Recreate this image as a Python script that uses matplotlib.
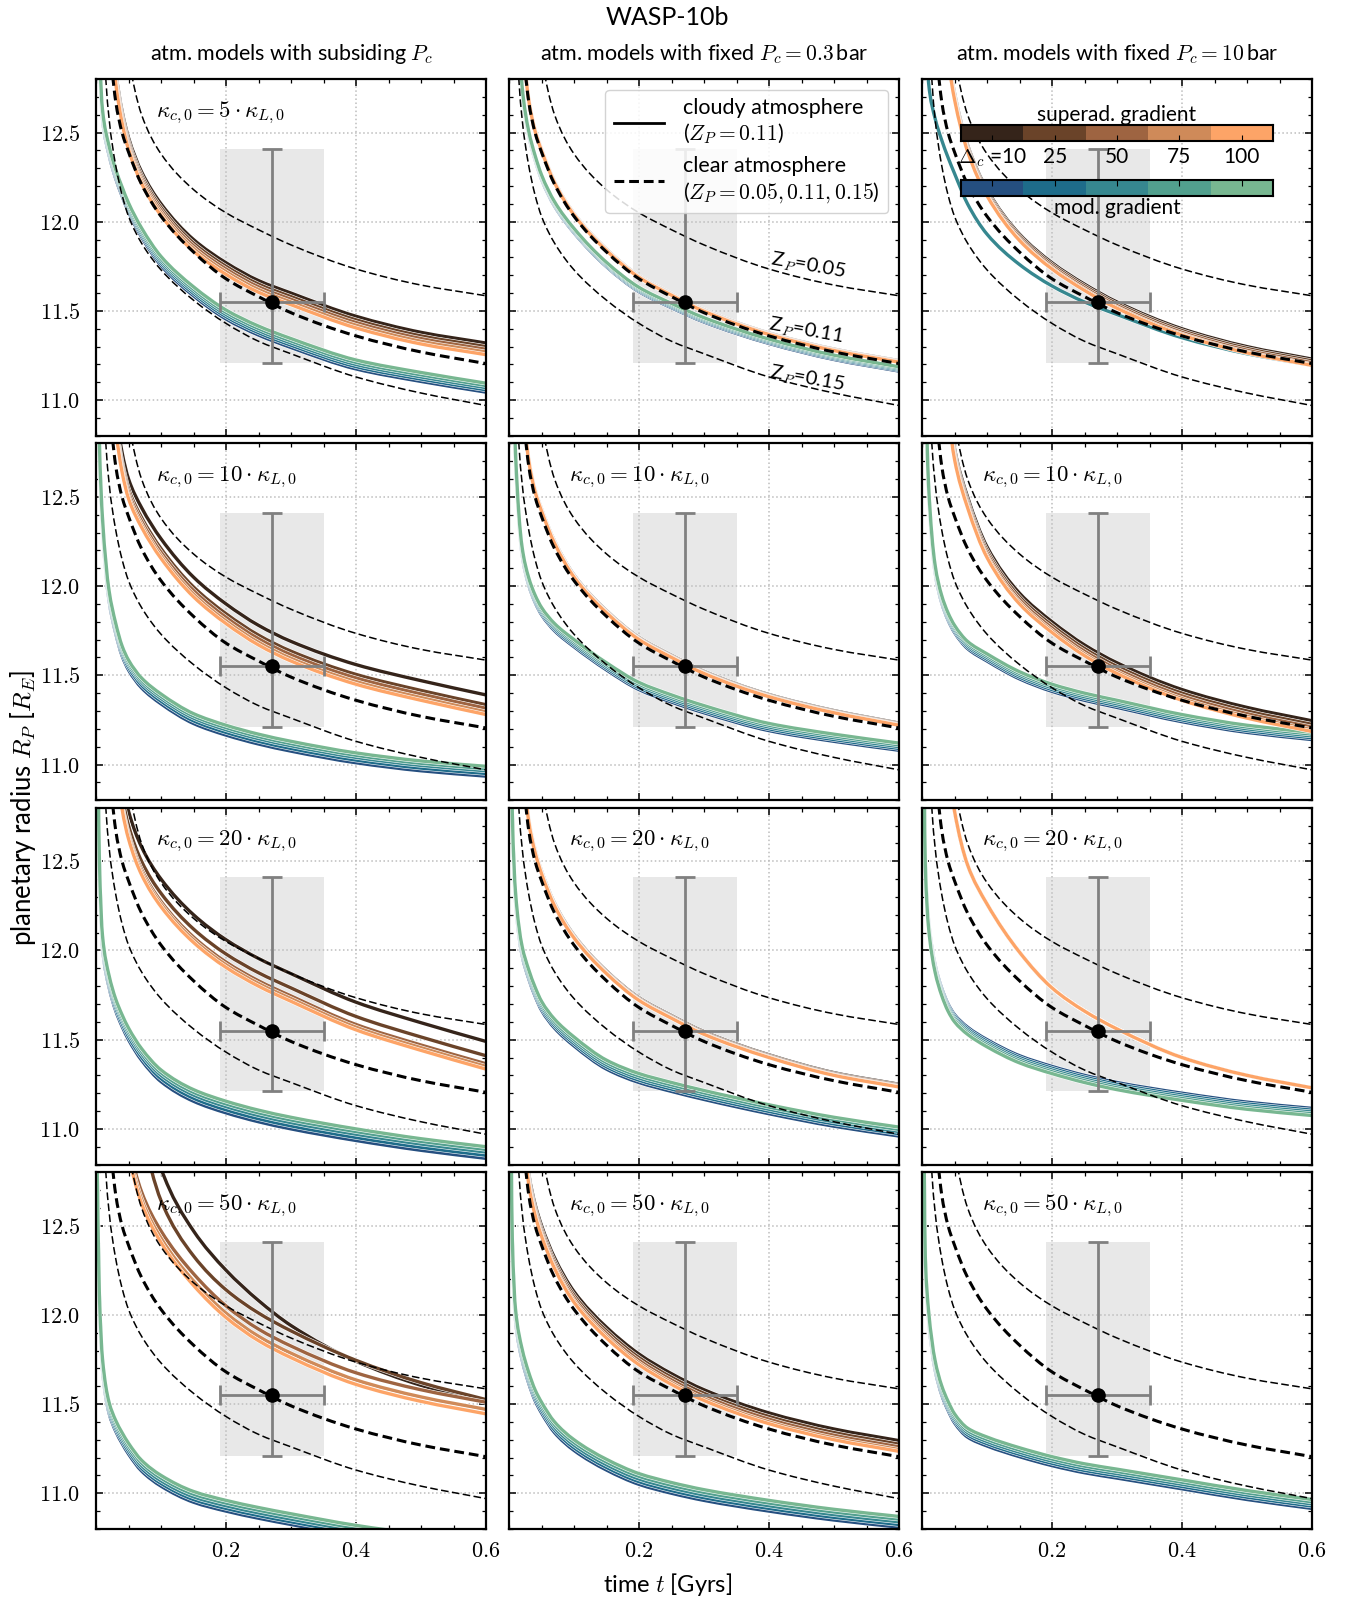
import numpy as np
import matplotlib
matplotlib.use('Agg')
import matplotlib.pyplot as plt
import matplotlib.patheffects as pe
from matplotlib.lines import Line2D
from matplotlib.path import Path
from matplotlib.patches import PathPatch
from matplotlib.colors import ListedColormap
from matplotlib.ticker import MultipleLocator, FixedLocator, FuncFormatter

plt.rcParams['mathtext.fontset'] = 'cm'
plt.rcParams['font.family'] = ['Lato', 'DejaVu Sans']

# time grid [Gyr] on which all radius tracks are tabulated
t_grid = [0.001, 0.005, 0.01, 0.02, 0.03, 0.04, 0.05, 0.07, 0.1, 0.15, 0.2, 0.25, 0.3, 0.4, 0.5, 0.6]

# clear atmosphere tracks (same in every panel)
clear_z005 = [18.0, 16.5, 15.5, 14.4, 13.7, 13.2, 12.92, 12.6, 12.38, 12.18, 12.05, 11.955, 11.87, 11.735, 11.645, 11.585]
clear_z011 = [17.5, 15.8, 14.3, 13.1, 12.68, 12.50, 12.39, 12.21, 12.03, 11.83, 11.68, 11.58, 11.49, 11.36, 11.27, 11.205]
clear_z015 = [17.0, 15.0, 13.2, 12.58, 12.32, 12.15, 12.03, 11.88, 11.73, 11.56, 11.43, 11.33, 11.26, 11.13, 11.04, 10.97]

# opacity factors (rows) and label for each row
kappa_factor = [5, 10, 20, 50]
col_titles = [r'atm. models with subsiding $P_c$',
              r'atm. models with fixed $P_c = 0.3\,$bar',
              r'atm. models with fixed $P_c = 10\,$bar']
delta_c = [10, 25, 50, 75, 100]

sup_colors = ['#35241a', '#6a4329', '#9e6441', '#cf8a59', '#fda467']
mod_colors = ['#254f80', '#1e6c8a', '#36878f', '#52a08e', '#78b791']

# cloudy tracks, superadiabatic gradient: per panel a list of
# (track, [(colour index, shift), ...])
sup_00 = [20, 17.5, 15.5, 13.3, 12.85, 12.62, 12.47, 12.28, 12.1, 11.9, 11.77, 11.67, 11.6, 11.47, 11.38, 11.32]
sup_10 = [20, 17.5, 15.5, 13.5, 13.0, 12.75, 12.6, 12.44, 12.265, 12.05, 11.9, 11.78, 11.69, 11.56, 11.47, 11.39]
sup_20 = [20, 17.5, 16, 14.0, 13.3, 12.95, 12.78, 12.58, 12.4, 12.2, 12.06, 11.955, 11.87, 11.71, 11.595, 11.49]
sup_30_a = [17.6, 16.8, 16.0, 15.0, 14.45, 14.05, 13.75, 13.3, 12.82, 12.47, 12.25, 12.08, 11.94, 11.74, 11.605, 11.51]
sup_30_b = [17.4, 16.6, 15.8, 14.8, 14.2, 13.8, 13.5, 13.05, 12.64, 12.33, 12.14, 12.01, 11.91, 11.745, 11.62, 11.525]
sup_30_c = [17.4, 16.6, 15.8, 14.5, 13.7, 13.2, 12.93, 12.65, 12.43, 12.19, 12.01, 11.88, 11.785, 11.635, 11.54, 11.47]
sup_01 = [17.5, 15.8, 14.3, 13.1, 12.69, 12.51, 12.40, 12.22, 12.04, 11.84, 11.69, 11.59, 11.50, 11.37, 11.28, 11.215]
sup_11 = [17.5, 15.8, 14.3, 13.12, 12.71, 12.53, 12.42, 12.24, 12.05, 11.85, 11.70, 11.60, 11.51, 11.38, 11.29, 11.22]
sup_21 = [17.5, 15.8, 14.3, 13.15, 12.73, 12.55, 12.43, 12.25, 12.07, 11.87, 11.72, 11.62, 11.53, 11.40, 11.30, 11.235]
sup_31 = [17.6, 16, 14.5, 13.25, 12.8, 12.62, 12.50, 12.32, 12.13, 11.93, 11.78, 11.67, 11.58, 11.45, 11.36, 11.295]
sup_02 = [19, 17, 16, 14.2, 13.35, 12.95, 12.72, 12.43, 12.18, 11.93, 11.77, 11.65, 11.55, 11.40, 11.30, 11.23]
sup_12 = [19, 17, 16, 14.4, 13.5, 13.05, 12.77, 12.5, 12.22, 11.96, 11.80, 11.67, 11.57, 11.42, 11.32, 11.245]
sup_22 = [19, 17, 16, 14.4, 13.5, 13.05, 12.78, 12.48, 12.26, 11.99, 11.79, 11.66, 11.56, 11.40, 11.30, 11.23]

superad = {
    (0, 0): [(sup_00, [(0, 0), (1, -0.02), (2, -0.035), (3, -0.05), (4, -0.065)])],
    (1, 0): [(sup_10, [(0, 0), (1, -0.055), (2, -0.075), (3, -0.095), (4, -0.11)])],
    (2, 0): [(sup_20, [(0, 0), (1, -0.08), (2, -0.125), (3, -0.14), (4, -0.155)])],
    (3, 0): [(sup_30_a, [(0, 0)]), (sup_30_b, [(1, 0)]),
             (sup_30_c, [(2, 0.04), (3, 0), (4, -0.025)])],
    (0, 1): [(sup_01, [(0, 0.006), (1, 0.004), (2, 0.002), (3, 0), (4, -0.002)])],
    (1, 1): [(sup_11, [(0, 0.012), (1, 0.008), (2, 0.004), (3, 0.002), (4, 0)])],
    (2, 1): [(sup_21, [(0, 0.015), (1, 0.01), (2, 0.005), (3, 0.002), (4, 0)])],
    (3, 1): [(sup_31, [(0, 0), (1, -0.02), (2, -0.035), (3, -0.05), (4, -0.06)])],
    (0, 2): [(sup_02, [(0, 0), (1, -0.01), (2, -0.02), (3, -0.03), (4, -0.035)])],
    (1, 2): [(sup_12, [(0, 0), (1, -0.02), (2, -0.035), (3, -0.05), (4, -0.06)])],
    (2, 2): [(sup_22, [(0, 0), (1, 0), (2, 0), (3, 0), (4, 0)])],
}

# cloudy tracks, moderate gradient
mod_00 = [15.0, 13.0, 12.6, 12.4, 12.27, 12.17, 12.08, 11.94, 11.78, 11.61, 11.48, 11.39, 11.32, 11.2, 11.13, 11.07]
mod_10 = [14.0, 12.8, 12.35, 11.95, 11.77, 11.64, 11.56, 11.46, 11.37, 11.26, 11.195, 11.145, 11.105, 11.04, 10.995, 10.965]
mod_20 = [14.0, 12.5, 12.05, 11.83, 11.70, 11.61, 11.535, 11.42, 11.3, 11.19, 11.125, 11.075, 11.035, 10.97, 10.915, 10.87]
mod_30 = [13.0, 12.1, 11.72, 11.48, 11.38, 11.31, 11.25, 11.155, 11.07, 10.98, 10.93, 10.89, 10.855, 10.79, 10.74, 10.70]
mod_01 = [15.5, 14.5, 13.6, 12.75, 12.5, 12.36, 12.25, 12.1, 11.95, 11.76, 11.62, 11.53, 11.45, 11.33, 11.24, 11.175]
mod_11 = [15.0, 13.5, 12.72, 12.2, 12.03, 11.93, 11.86, 11.77, 11.68, 11.55, 11.44, 11.37, 11.31, 11.21, 11.15, 11.10]
mod_21 = [14.5, 12.75, 12.3, 12.0, 11.87, 11.77, 11.69, 11.59, 11.49, 11.36, 11.285, 11.235, 11.19, 11.11, 11.04, 10.985]
mod_31 = [14.0, 12.4, 12.0, 11.78, 11.65, 11.55, 11.48, 11.37, 11.27, 11.16, 11.08, 11.03, 10.99, 10.93, 10.88, 10.84]
mod_02 = [14.5, 13.3, 12.78, 12.58, 12.46, 12.36, 12.27, 12.1, 11.93, 11.76, 11.64, 11.55, 11.48, 11.35, 11.26, 11.195]
mod_12 = [14.0, 13.2, 12.55, 12.1, 11.93, 11.83, 11.76, 11.67, 11.6, 11.5, 11.43, 11.38, 11.34, 11.26, 11.2, 11.16]
mod_22 = [14.0, 12.5, 12.15, 11.9, 11.77, 11.68, 11.62, 11.55, 11.48, 11.39, 11.33, 11.28, 11.24, 11.18, 11.13, 11.095]
mod_32 = [14.0, 12.3, 12.0, 11.72, 11.58, 11.49, 11.42, 11.34, 11.29, 11.23, 11.18, 11.14, 11.11, 11.05, 10.99, 10.94]

spread = [(0, -0.025), (1, -0.012), (2, 0), (3, 0.012), (4, 0.025)]
moderate = {
    (0, 0): [(mod_00, spread)],
    (1, 0): [(mod_10, [(0, -0.03), (1, -0.015), (2, 0), (3, 0.012), (4, 0.025)])],
    (2, 0): [(mod_20, [(0, -0.035), (1, -0.018), (2, 0), (3, 0.015), (4, 0.03)])],
    (3, 0): [(mod_30, [(0, -0.03), (1, -0.015), (2, 0), (3, 0.015), (4, 0.03)])],
    (0, 1): [(mod_01, [(0, -0.012), (1, -0.006), (2, 0), (3, 0.006), (4, 0.012)])],
    (1, 1): [(mod_11, [(0, -0.02), (1, -0.01), (2, 0), (3, 0.01), (4, 0.02)])],
    (2, 1): [(mod_21, spread)],
    (3, 1): [(mod_31, [(0, -0.03), (1, -0.015), (2, 0), (3, 0.015), (4, 0.03)])],
    (0, 2): [(mod_02, [(2, 0)])],
    (1, 2): [(mod_12, [(0, -0.02), (1, -0.01), (2, 0), (3, 0.01), (4, 0.02)])],
    (2, 2): [(mod_22, [(0, 0.02), (1, 0.01), (2, 0), (3, -0.01), (4, -0.02)])],
    (3, 2): [(mod_32, spread)],
}

# observed age and radius of WASP-10b
obs_t, obs_t_err = 0.27, 0.08
obs_r, obs_r_lo, obs_r_hi = 11.55, 0.34, 0.86

t = np.array(t_grid)
stroke = [pe.Stroke(linewidth=3.2, foreground='white'), pe.Normal()]
fmt = FuncFormatter(lambda v, p: '$%.1f$' % v)


def smooth_path(x, y):
    # monotone cubic Bezier through the tabulated points
    x = np.asarray(x, float)
    y = np.asarray(y, float)
    h = np.diff(x)
    d = np.diff(y) / h
    m = np.empty_like(y)
    m[0], m[-1] = d[0], d[-1]
    for k in range(1, len(x) - 1):
        if d[k - 1] * d[k] <= 0:
            m[k] = 0.0
        else:
            w1 = 2 * h[k] + h[k - 1]
            w2 = h[k] + 2 * h[k - 1]
            m[k] = (w1 + w2) / (w1 / d[k - 1] + w2 / d[k])
    verts = [(x[0], y[0])]
    codes = [Path.MOVETO]
    for k in range(len(x) - 1):
        verts += [(x[k] + h[k] / 3, y[k] + m[k] * h[k] / 3),
                  (x[k + 1] - h[k] / 3, y[k + 1] - m[k + 1] * h[k] / 3),
                  (x[k + 1], y[k + 1])]
        codes += [Path.CURVE4] * 3
    return Path(verts, codes)


def draw_track(ax, y, **kw):
    ax.add_patch(PathPatch(smooth_path(t, y), fill=False, capstyle='butt', **kw))


def draw_bundle(ax, groups, colors):
    for track, members in groups:
        for ci, shift in members:
            draw_track(ax, np.array(track) + shift, edgecolor=colors[ci], lw=2.4,
                       path_effects=stroke, zorder=2)


fig, axes = plt.subplots(4, 3, figsize=(13.49, 16.02), dpi=100, sharex=True, sharey=True)
fig.subplots_adjust(left=0.0712, right=0.9726, top=0.9507, bottom=0.0456,
                    wspace=0.059, hspace=0.021)

for r in range(4):
    for c in range(3):
        ax = axes[r, c]
        ax.fill_between([obs_t - obs_t_err, obs_t + obs_t_err], obs_r - obs_r_lo,
                        obs_r + obs_r_hi, color='#e8e8e8', lw=0, zorder=0.5)
        ax.grid(True, which='major', ls=':', color='#bdbdbd', lw=1.1, zorder=0.6)
        ax.set_axisbelow(True)

        if (r, c) in moderate:
            draw_bundle(ax, moderate[(r, c)], mod_colors)
        if (r, c) in superad:
            draw_bundle(ax, superad[(r, c)], sup_colors)

        draw_track(ax, clear_z005, edgecolor='k', lw=1.1, ls=(0, (5, 2.2)), zorder=3)
        draw_track(ax, clear_z015, edgecolor='k', lw=1.1, ls=(0, (5, 2.2)), zorder=3)
        draw_track(ax, clear_z011, edgecolor='k', lw=2.2, ls=(0, (3.2, 1.6)), zorder=3)

        ax.errorbar(obs_t, obs_r, xerr=obs_t_err, yerr=[[obs_r_lo], [obs_r_hi]],
                    fmt='o', color='k', ms=9.5, ecolor='grey', elinewidth=2,
                    capsize=7, capthick=2, zorder=5)

        ax.set_xlim(0, 0.6)
        ax.set_ylim(10.8, 12.8)
        ax.xaxis.set_major_locator(FixedLocator([0.2, 0.4, 0.6]))
        ax.xaxis.set_minor_locator(MultipleLocator(0.05))
        ax.yaxis.set_major_locator(FixedLocator([11.0, 11.5, 12.0, 12.5]))
        ax.yaxis.set_minor_locator(MultipleLocator(0.1))
        ax.xaxis.set_major_formatter(fmt)
        ax.yaxis.set_major_formatter(fmt)
        ax.tick_params(which='both', direction='in', top=True, right=True, labelsize=16)
        ax.tick_params(which='major', length=5, width=1.1)
        ax.tick_params(which='minor', length=3, width=0.9)
        ax.tick_params(axis='y', pad=11.5)
        ax.tick_params(axis='x', pad=9)
        for sp in ax.spines.values():
            sp.set_linewidth(1.6)

        if not (r == 0 and c > 0):
            ax.text(0.155, 0.905, r'$\kappa_{c,0} = %d \cdot \kappa_{L,0}$' % kappa_factor[r],
                    transform=ax.transAxes, fontsize=16.5, va='center', ha='left')

# legend and clear-track labels in the middle top panel
ax = axes[0, 1]
handles = [Line2D([], [], color='k', lw=2),
           Line2D([], [], color='k', lw=2.2, ls=(0, (3.2, 1.6)))]
ax.legend(handles, ['cloudy atmosphere\n($Z_P = 0.11$)',
                    'clear atmosphere\n($Z_P = 0.05, 0.11, 0.15$)'],
          loc='upper right', fontsize=15.5, handlelength=2.3, handletextpad=0.9,
          framealpha=0.85, edgecolor='#cccccc', borderaxespad=0.5, labelspacing=0.45)
for z, (zx, zy) in zip(['0.05', '0.11', '0.15'], [(0.46, 11.75), (0.457, 11.385), (0.459, 11.12)]):
    ax.text(zx, zy, r'Z$_P$=' + z, rotation=-10, ha='center', va='center',
            fontsize=14.5, zorder=6)

# discrete colour keys for the temperature jump in the right top panel
ax = axes[0, 2]
cax1 = ax.inset_axes([0.1, 0.826, 0.8, 0.045])
cax1.imshow([np.arange(5)], cmap=ListedColormap(sup_colors), aspect='auto', extent=[0, 5, 0, 1])
cax1.set_xticks(np.arange(5) + 0.5)
cax1.set_xticklabels([r'$\Delta_c$ =10'] + [str(d) for d in delta_c[1:]], fontsize=15)
cax1.set_yticks([])
cax1.tick_params(axis='x', direction='in', length=4, pad=4)
cax1.set_title('superad. gradient', fontsize=15, pad=1)

cax2 = ax.inset_axes([0.1, 0.671, 0.8, 0.045])
cax2.imshow([np.arange(5)], cmap=ListedColormap(mod_colors), aspect='auto', extent=[0, 5, 0, 1])
cax2.set_xticks(np.arange(5) + 0.5)
cax2.set_yticks([])
cax2.tick_params(axis='x', direction='in', length=4, bottom=False, top=True,
                 labelbottom=False)
cax2.set_xlabel('mod. gradient', fontsize=15, labelpad=1)
for cax in (cax1, cax2):
    for sp in cax.spines.values():
        sp.set_linewidth(1.5)

for c in range(3):
    x0 = axes[0, c].get_position().x0
    x1 = axes[0, c].get_position().x1
    fig.text((x0 + x1) / 2, 0.966, col_titles[c], ha='center', va='center', fontsize=15.5)

fig.text(0.495, 0.989, 'WASP-10b', ha='center', va='center', fontsize=18)
fig.text(0.495, 0.0112, r'time $t$ [Gyrs]', ha='center', va='center', fontsize=17)
fig.text(0.0167, 0.496, r'planetary radius $R_P$ [$R_E$]', ha='center', va='center',
         rotation=90, fontsize=18.5)

fig.savefig('out.png', dpi=100)
